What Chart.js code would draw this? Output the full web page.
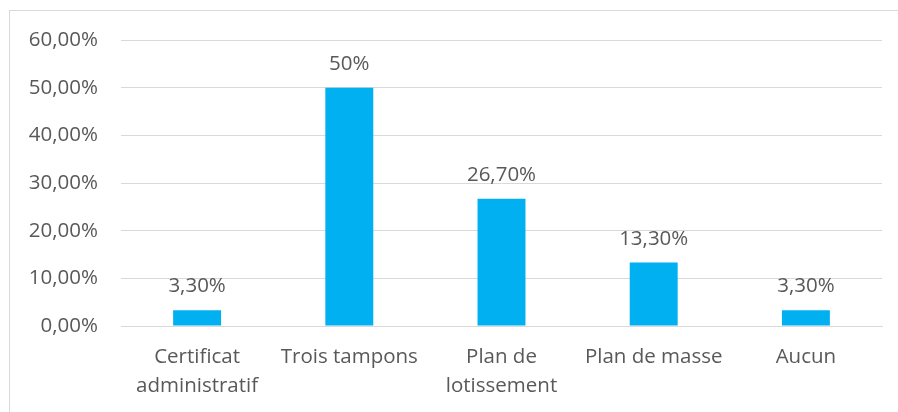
<!DOCTYPE html>
<html>
<head>
<meta charset="utf-8">
<script src="https://cdn.jsdelivr.net/npm/chart.js@4"></script>
<style>
  html, body { margin: 0; padding: 0; background: #fff; overflow: hidden; }
  #wrap { position: relative; width: 898px; height: 412px; }
  #frame { position: absolute; left: 9px; top: 10px; width: 900px; height: 420px; border: 1px solid #d9d9d9; box-sizing: border-box; }
  canvas { position: absolute; left: 0; top: 0; }
</style>
</head>
<body>
<div id="wrap">
  <div id="frame"></div>
  <canvas id="c" width="898" height="412"></canvas>
</div>
<script>
const categories = [
  ["Certificat", "administratif"],
  "Trois tampons",
  ["Plan de", "lotissement"],
  "Plan de masse",
  "Aucun"
];
const values = [3.3, 50, 26.7, 13.3, 3.3];
const valueLabels = ["3,30%", "50%", "26,70%", "13,30%", "3,30%"];
const yTicks = [0, 10, 20, 30, 40, 50, 60];

const TEXT = "#595959";
const FONT = "'Open Sans'";
const SIZE = 20.5;

const dataLabels = {
  id: "dataLabels",
  afterDatasetsDraw(chart) {
    const ctx = chart.ctx;
    const meta = chart.getDatasetMeta(0);
    ctx.save();
    ctx.fillStyle = TEXT;
    ctx.font = SIZE + "px " + FONT;
    ctx.textAlign = "center";
    ctx.textBaseline = "alphabetic";
    meta.data.forEach((bar, i) => {
      ctx.fillText(valueLabels[i], bar.x, bar.y - 18);
    });
    ctx.restore();
  }
};

new Chart(document.getElementById("c"), {
  type: "bar",
  data: {
    labels: categories,
    datasets: [{
      data: values,
      backgroundColor: "#00B0F0",
      borderWidth: 0,
      categoryPercentage: 1,
      barPercentage: 0.315
    }]
  },
  options: {
    responsive: false,
    animation: false,
    events: [],
    layout: { padding: { top: 40, right: 16, left: 0, bottom: 0 } },
    plugins: { legend: { display: false }, tooltip: { enabled: false } },
    scales: {
      y: {
        min: 0, max: 60,
        afterBuildTicks(axis) { axis.ticks = yTicks.map(v => ({ value: v })); },
        afterFit(axis) { axis.width = 121; },
        border: { display: false },
        grid: { color: "#d9d9d9", lineWidth: 1, drawTicks: false },
        ticks: {
          padding: 23,
          color: TEXT,
          font: { family: FONT, size: SIZE },
          callback: v => v.toFixed(2).replace(".", ",") + "%"
        }
      },
      x: {
        afterFit(axis) { axis.height = 86; },
        border: { display: true, color: "#d9d9d9" },
        grid: { display: false, drawTicks: false },
        ticks: {
          padding: 17,
          color: TEXT,
          maxRotation: 0,
          autoSkip: false,
          font: { family: FONT, size: SIZE, lineHeight: "29px" }
        }
      }
    }
  },
  plugins: [dataLabels]
});
</script>
</body>
</html>
